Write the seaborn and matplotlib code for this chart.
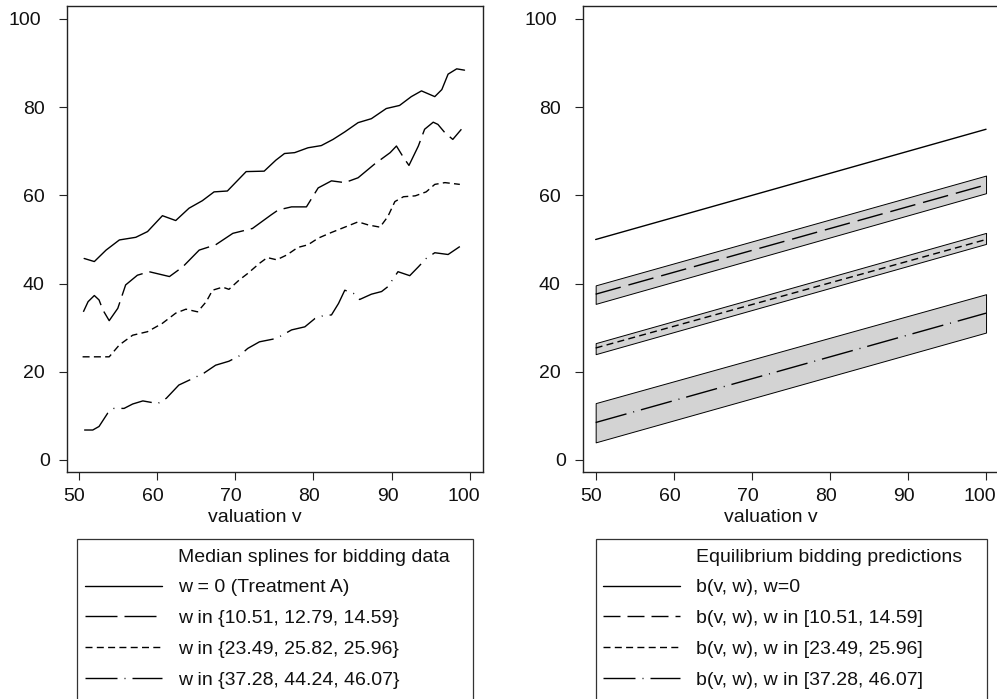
import numpy as np
import pandas as pd
import matplotlib
matplotlib.use("Agg")
import matplotlib.pyplot as plt
from matplotlib.lines import Line2D
from matplotlib.patches import Rectangle
import seaborn as sns

# ---------------- data ----------------
# Left panel: median splines for bidding data
v_a = [50.7, 52.0, 53.5, 55.2, 57.3, 58.8, 60.7, 62.4, 64.1, 65.8, 67.3, 69.0, 71.4, 73.7, 75.2,
       76.3, 77.6, 79.3, 81.0, 82.5, 84.0, 85.7, 87.4, 89.3, 91.0, 92.5, 93.8, 95.5, 96.4, 97.2, 98.3, 99.3]
b_a = [45.7, 45.0, 47.6, 49.9, 50.5, 51.8, 55.4, 54.3, 57.1, 58.8, 60.8, 61.0, 65.4, 65.5, 68.0,
       69.5, 69.7, 70.8, 71.3, 72.7, 74.4, 76.5, 77.4, 79.7, 80.4, 82.4, 83.7, 82.4, 84.0, 87.5, 88.7, 88.4]

v_b = [50.6, 51.2, 52.0, 52.6, 53.1, 53.9, 55.0, 56.0, 57.5, 59.0, 61.6, 63.3, 65.4, 67.5, 69.7, 72.2,
       74.6, 75.5, 77.2, 79.1, 80.6, 82.3, 84.0, 85.7, 87.8, 89.8, 90.6, 91.5, 92.2, 93.4, 94.2, 95.3,
       95.9, 96.8, 97.8, 98.9]
b_b = [33.6, 35.9, 37.3, 36.3, 34.0, 31.6, 34.4, 39.7, 41.9, 42.7, 41.6, 43.8, 47.6, 48.8, 51.4, 52.5,
       55.6, 56.7, 57.4, 57.4, 61.7, 63.3, 62.9, 64.0, 67.1, 69.7, 71.2, 68.6, 66.8, 71.2, 75.0, 76.6,
       76.1, 74.2, 72.7, 75.0]

v_c = [50.5, 52.2, 53.9, 55.2, 56.9, 58.8, 60.7, 62.4, 63.7, 65.2, 66.3, 67.1, 68.4, 69.2, 70.5, 71.6,
       73.1, 74.1, 75.3, 76.6, 78.0, 79.3, 80.6, 82.3, 84.0, 85.7, 87.0, 88.5, 89.5, 90.4, 91.5, 93.0,
       94.4, 95.5, 96.8, 98.7]
b_c = [23.4, 23.4, 23.4, 26.1, 28.3, 29.1, 31.0, 33.3, 34.2, 33.6, 35.9, 38.5, 39.2, 38.7, 40.8, 42.3,
       44.6, 45.9, 45.4, 46.5, 48.2, 48.8, 50.3, 51.6, 52.8, 54.0, 53.3, 52.8, 55.2, 58.6, 59.7, 59.9,
       60.8, 62.5, 62.9, 62.5]

v_d = [50.7, 51.8, 52.6, 53.7, 54.5, 55.8, 56.9, 58.2, 60.1, 61.2, 62.8, 64.6, 66.0, 67.5, 69.2, 70.5,
       71.6, 73.1, 74.8, 75.7, 77.2, 78.9, 80.2, 81.2, 82.3, 83.2, 84.0, 85.1, 85.9, 87.4, 88.7, 89.5,
       90.8, 92.3, 93.4, 94.4, 95.5, 97.2, 98.7]
b_d = [6.8, 6.8, 7.6, 10.6, 11.7, 11.7, 12.7, 13.4, 12.8, 14.0, 17.0, 18.5, 19.7, 21.5, 22.4, 23.6,
       25.3, 26.8, 27.4, 28.0, 29.5, 30.2, 32.1, 32.7, 32.9, 35.5, 38.5, 37.8, 36.4, 37.6, 38.2, 39.3,
       42.7, 41.8, 43.8, 45.7, 47.0, 46.6, 48.4]

left_labels = ["w = 0 (Treatment A)", "w in {10.51, 12.79, 14.59}",
               "w in {23.49, 25.82, 25.96}", "w in {37.28, 44.24, 46.07}"]
left_title = "Median splines for bidding data"

# Right panel: equilibrium predictions (values at v = 50 and v = 100)
v_eq = [50, 100]
eq_w0 = [50.0, 75.0]
eq_w1 = [37.6, 62.4]
eq_w1_lo = [35.4, 60.5]
eq_w1_hi = [39.6, 64.5]
eq_w2 = [25.4, 50.0]
eq_w2_lo = [24.0, 49.0]
eq_w2_hi = [26.5, 51.5]
eq_w3 = [8.5, 33.3]
eq_w3_lo = [4.0, 28.9]
eq_w3_hi = [12.9, 37.6]

right_labels = ["b(v, w), w=0", "b(v, w), w in [10.51, 14.59]",
                "b(v, w), w in [23.49, 25.96]", "b(v, w), w in [37.28, 46.07]"]
right_title = "Equilibrium bidding predictions"

xticks = [50, 60, 70, 80, 90, 100]
yticks = [0, 20, 40, 60, 80, 100]
xlabel = "valuation v"

# ---------------- style ----------------
sns.set_theme(style="white")
plt.rcParams["font.family"] = ["Liberation Sans", "DejaVu Sans"]
plt.rcParams["lines.scale_dashes"] = False

W, H = 997, 699
PT = 0.72  # points per pixel at 100 dpi
FS = 14.0

fig = plt.figure(figsize=(W / 100, H / 100), dpi=100)
fig.patch.set_facecolor("white")

ax_l = fig.add_axes([66.7 / W, 1 - 472 / H, 416.3 / W, 466 / H])
ax_r = fig.add_axes([582.7 / W, 1 - 472 / H, 416.3 / W, 466 / H])

ls_solid = "-"
ls_long = (0, (32 * PT, 7 * PT))
ls_short = (0, (7 * PT, 4.3 * PT))
ls_dashdot = (0, (32 * PT, 7 * PT, 1 * PT, 7 * PT))
ls_med = (0, (26 * PT, 8 * PT))
ls_med_leg = (0, (17 * PT, 7 * PT))
LW = 1.0

# left panel
series = [(v_a, b_a, ls_solid), (v_b, b_b, ls_long), (v_c, b_c, ls_short), (v_d, b_d, ls_dashdot)]
for vv, bb, ls in series:
    df = pd.DataFrame({"v": vv, "bid": bb})
    sns.lineplot(data=df, x="v", y="bid", ax=ax_l, color="black", lw=LW, linestyle=ls,
                 estimator=None, sort=False)

# right panel
bands = [(eq_w1_lo, eq_w1_hi), (eq_w2_lo, eq_w2_hi), (eq_w3_lo, eq_w3_hi)]
for lo, hi in bands:
    ax_r.fill_between(v_eq, lo, hi, facecolor="#d3d3d3", edgecolor="black", linewidth=0.7, zorder=1)
eq_series = [(eq_w0, ls_solid), (eq_w1, ls_med), (eq_w2, ls_short), (eq_w3, ls_dashdot)]
for yy, ls in eq_series:
    df = pd.DataFrame({"v": v_eq, "bid": yy})
    sns.lineplot(data=df, x="v", y="bid", ax=ax_r, color="black", lw=LW, linestyle=ls,
                 estimator=None, sort=False, zorder=3)

for ax, x0 in ((ax_l, 48.47), (ax_r, 48.34)):
    ax.set_xlim(x0, 101.66)
    ax.set_ylim(-2.72, 102.95)
    ax.set_xticks(xticks)
    ax.set_yticks(yticks)
    ax.set_xlabel("")
    ax.set_ylabel("")
    ax.tick_params(direction="out", length=8 * PT, width=0.8, color="#222222",
                   labelleft=False, labelbottom=False, left=True, bottom=True)
    for sp in ax.spines.values():
        sp.set_visible(True)
        sp.set_color("#222222")
        sp.set_linewidth(1.0)
    ax.grid(False)
    ax.set_facecolor("white")
    # y tick labels (left edges)
    for t in yticks:
        s = str(t)
        off = {1: -27.5, 2: -44.0, 3: -58.2}[len(s)]
        ax.annotate(s, xy=(0, t), xycoords=ax.get_yaxis_transform(),
                    xytext=(off * PT, -6.3 * PT), textcoords="offset points",
                    ha="left", va="baseline", fontsize=FS, color="#111111")
    for t in xticks:
        s = str(t)
        ax.annotate(s, xy=(t, 0), xycoords=ax.get_xaxis_transform(),
                    xytext=(-7.5 * len(s) * PT, -28.7 * PT), textcoords="offset points",
                    ha="left", va="baseline", fontsize=FS, color="#111111")
    ax.annotate(xlabel, xy=(0.340, 0), xycoords="axes fraction",
                xytext=(0, -49.7 * PT), textcoords="offset points",
                ha="left", va="baseline", fontsize=FS, color="#111111")

# legends
def make_legend(x_box0, x_box1, title, labels, styles):
    fig.add_artist(Rectangle((x_box0 / W, -20 / H), (x_box1 - x_box0) / W, (H + 20 - 539) / H,
                             transform=fig.transFigure, facecolor="none",
                             edgecolor="#333333", linewidth=0.9, clip_on=False))
    handles = [Line2D([], [], linestyle="none")]
    for ls in styles:
        handles.append(Line2D([], [], color="black", lw=LW, linestyle=ls))
    leg = fig.legend(handles, [title] + labels, loc="upper left",
                     bbox_to_anchor=((x_box0 + 7.7) / W, 1 - 548.0 / H),
                     frameon=False, borderpad=0, borderaxespad=0,
                     handlelength=77 / (FS / PT), handletextpad=16 / (FS / PT),
                     labelspacing=0.68, fontsize=FS)
    for txt in leg.get_texts():
        txt.set_color("#111111")
    return leg

make_legend(77, 473, left_title, left_labels, [ls_solid, ls_long, ls_short, ls_dashdot])
make_legend(595.7, 987.3, right_title, right_labels, [ls_solid, ls_med_leg, ls_short, ls_dashdot])

fig.savefig("out.png", dpi=100, facecolor="white")
